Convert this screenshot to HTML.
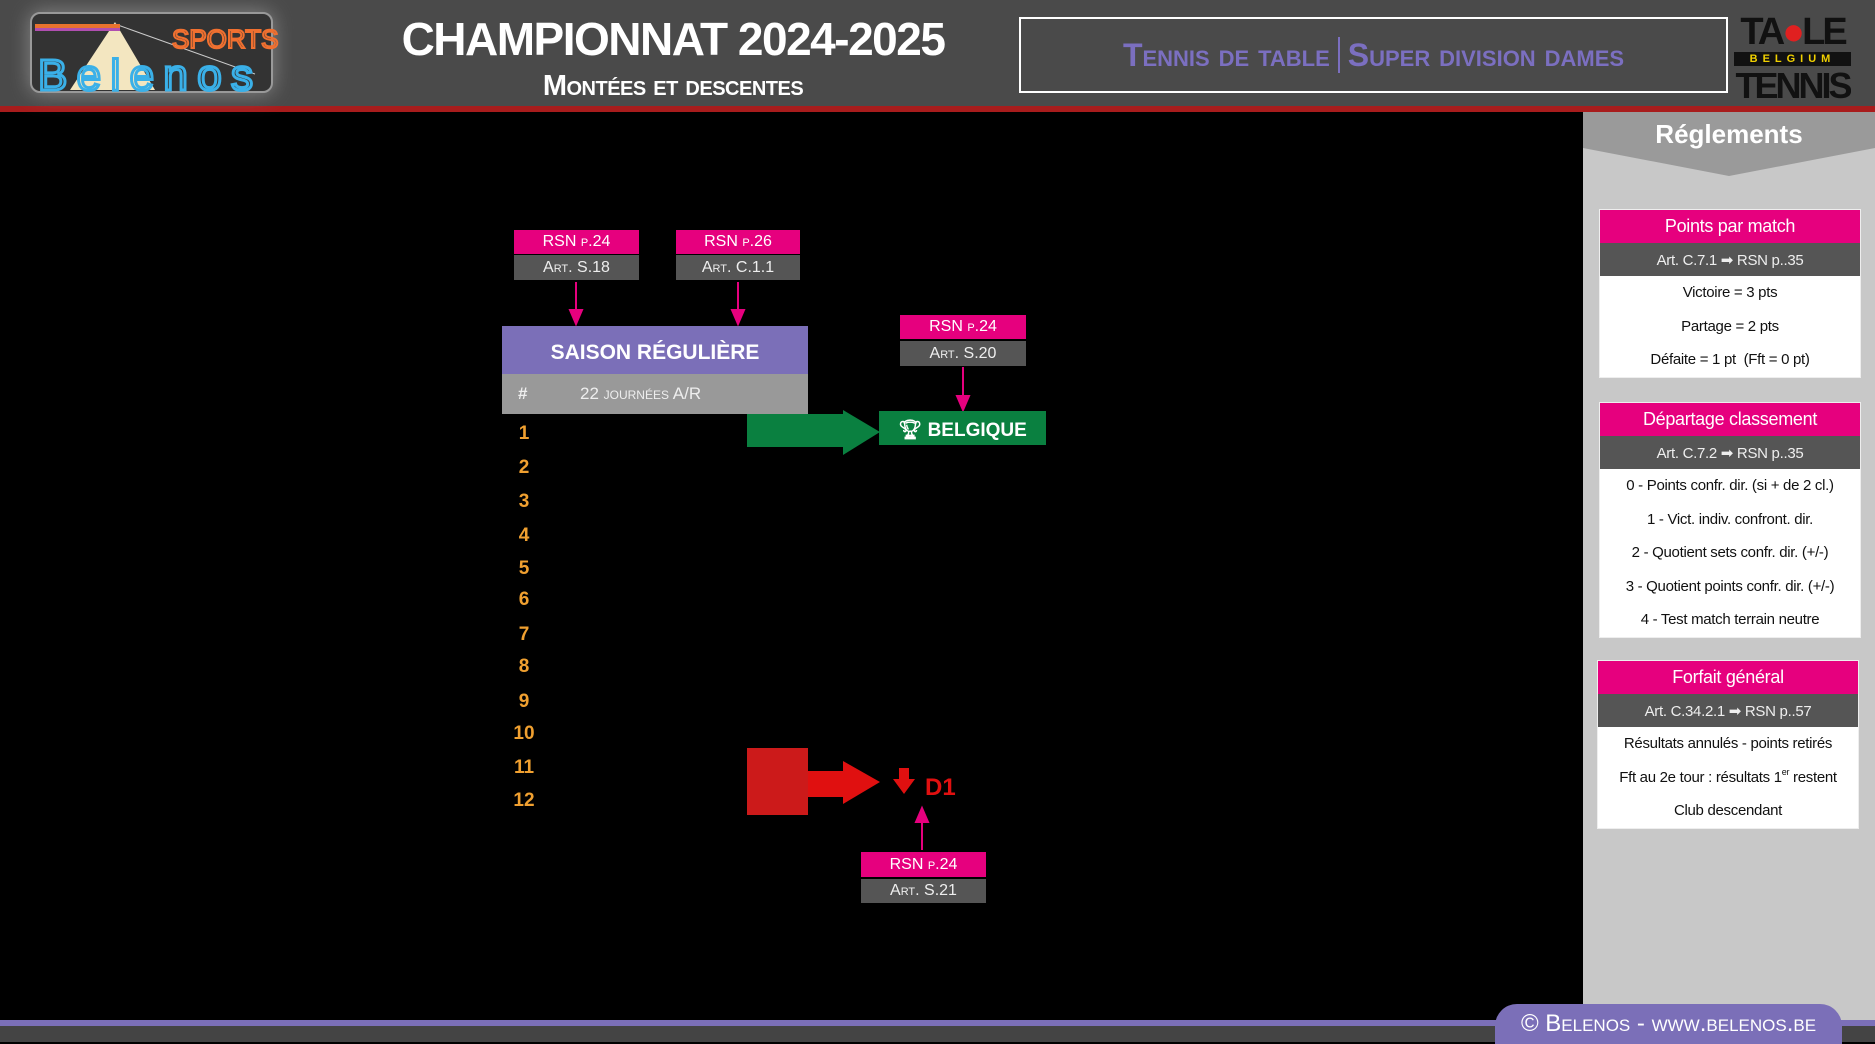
<!DOCTYPE html>
<html><head><meta charset="utf-8"><style>
*{margin:0;padding:0;box-sizing:border-box}
body{width:1875px;height:1042px;background:#000;position:relative;overflow:hidden;font-family:"Liberation Sans",sans-serif}
.a{position:absolute}
.c{display:flex;align-items:center;justify-content:center;white-space:nowrap}
.pk{background:#e6007e;color:#fff}
.gr{background:#555;color:#eee}
.sc{font-variant:small-caps}
.num{position:absolute;left:510px;width:28px;text-align:center;color:#f0a030;font-weight:bold;font-size:19px}
.box{position:absolute;background:#fff;left:1599px;width:262px;border:1px solid #eee}
.box div{height:33.5px;display:flex;align-items:center;justify-content:center;font-size:15px;color:#111;white-space:nowrap;letter-spacing:-0.3px}
.box .h{height:33px;background:#e6007e;color:#fff;font-size:18px}
.box .g{height:33px;background:#555;color:#eee;font-size:15px}
</style></head><body>
<div class="a" style="left:0;top:0;width:1875px;height:106px;background:#4a4a4a"></div>
<div class="a" style="left:0;top:106px;width:1875px;height:6px;background:#a81c1c"></div>
<div class="a" style="left:30px;top:12px;width:243px;height:81px;border:2px solid #999;border-radius:10px;background:#333;box-shadow:0 0 20px #888"></div>
<svg class="a" style="left:30px;top:12px" width="300" height="85">
<polygon points="85,10 40,78 125,78" fill="#f3e6c0"/>
<line x1="85" y1="12" x2="225" y2="62" stroke="#ccc" stroke-width="1"/>
<rect x="5" y="12" width="85" height="4" fill="#e8732e"/><rect x="5" y="16" width="85" height="3" fill="#b04fb0"/>
<text x="142" y="36" font-size="26" fill="none" stroke="#f07030" stroke-width="2" font-family="Liberation Sans">SPORTS</text>
<text x="8" y="78" font-size="44" fill="none" stroke="#3ab0e8" stroke-width="3" font-family="Liberation Sans" textLength="215">Belenos</text>
</svg>
<div class="a c" style="left:350px;top:14px;width:646px;height:50px;color:#fff;font-size:46px;font-weight:bold;letter-spacing:-1.5px">CHAMPIONNAT 2024-2025</div>
<div class="a c sc" style="left:350px;top:66px;width:646px;height:40px;color:#fff;font-size:29px;font-weight:bold;letter-spacing:-0.5px">Montées et descentes</div>
<div class="a c sc" style="left:1019px;top:17px;width:709px;height:76px;border:2px solid #fff;color:#7b6fc0;font-size:32px;font-weight:bold">Tennis de table <span style="display:inline-block;width:2px;height:36px;background:#7b6fc0;margin:0 8px"></span> Super division dames</div>
<div class="a" style="left:1734px;top:12px;width:117px;height:100px;text-align:center;font-weight:bold;color:#111;overflow:hidden">
<div style="font-size:38px;line-height:40px;letter-spacing:-3px">TA<span style="color:#e02020">●</span>LE</div>
<div style="font-size:11px;color:#f0d000;letter-spacing:5px;background:#111;line-height:14px">BELGIUM</div>
<div style="font-size:36px;line-height:40px;letter-spacing:-3px">TENNIS</div></div>
<div class="a" style="left:1583px;top:112px;width:292px;height:910px;background:#c8c8c8"></div>
<svg class="a" style="left:1583px;top:112px" width="292" height="66"><polygon points="0,0 292,0 292,36 146,64 0,36" fill="#9a9a9a"/></svg>
<div class="a c" style="left:1583px;top:114px;width:292px;height:40px;color:#fff;font-size:26px;font-weight:bold">Réglements</div>
<div class="box" style="top:209px"><div class="h">Points par match</div><div class="g">Art. C.7.1 ➡ RSN p..35</div><div>Victoire = 3 pts</div><div>Partage = 2 pts</div><div>Défaite = 1 pt &nbsp;(Fft = 0 pt)</div></div>
<div class="box" style="top:402px"><div class="h">Départage classement</div><div class="g">Art. C.7.2 ➡ RSN p..35</div><div>0 - Points confr. dir. (si + de 2 cl.)</div><div>1 - Vict. indiv. confront. dir.</div><div>2 - Quotient sets confr. dir. (+/-)</div><div>3 - Quotient points confr. dir. (+/-)</div><div>4 - Test match terrain neutre</div></div>
<div class="box" style="top:660px;left:1597px"><div class="h">Forfait général</div><div class="g">Art. C.34.2.1 ➡ RSN p..57</div><div>Résultats annulés - points retirés</div><div>Fft au 2e tour : résultats 1<span style="font-size:9px;position:relative;top:-5px">er</span>&nbsp;restent</div><div>Club descendant</div></div>
<div class="a" style="left:0;top:1020px;width:1875px;height:6px;background:#7b6fb8"></div>
<div class="a" style="left:0;top:1026px;width:1875px;height:16px;background:#444"></div>
<div class="a c sc" style="left:1495px;top:1004px;width:347px;height:40px;background:#7b6fb8;border-radius:22px 22px 0 0;color:#fff;font-size:24px">© Belenos - www.belenos.be</div>
<div class="a c pk" style="left:514px;top:230px;width:125px;height:24px;font-size:16px">RSN <span class="sc">&nbsp;p.24</span></div>
<div class="a c gr sc" style="left:514px;top:255px;width:125px;height:25px;font-size:16px">Art. S.18</div>
<div class="a c pk" style="left:676px;top:230px;width:124px;height:24px;font-size:16px">RSN <span class="sc">&nbsp;p.26</span></div>
<div class="a c gr sc" style="left:676px;top:255px;width:124px;height:25px;font-size:16px">Art. C.1.1</div>
<div class="a c pk" style="left:900px;top:315px;width:126px;height:24px;font-size:16px">RSN <span class="sc">&nbsp;p.24</span></div>
<div class="a c gr sc" style="left:900px;top:341px;width:126px;height:25px;font-size:16px">Art. S.20</div>
<div class="a c pk" style="left:861px;top:852px;width:125px;height:25px;font-size:16px">RSN <span class="sc">&nbsp;p.24</span></div>
<div class="a c gr sc" style="left:861px;top:879px;width:125px;height:24px;font-size:16px">Art. S.21</div>
<div class="a c" style="left:502px;top:326px;width:306px;height:48px;background:#7b6fb8;color:#fff;font-size:21px;font-weight:bold;padding-top:6px">SAISON RÉGULIÈRE</div>
<div class="a" style="left:502px;top:374px;width:306px;height:40px;background:#999;color:#eee;font-size:17px"><span style="position:absolute;left:16px;top:10px;font-weight:bold">#</span><span class="sc" style="position:absolute;left:78px;top:10px">22 journées A/R</span></div>
<svg class="a" style="left:0;top:0" width="1100" height="1000">
<g stroke="#e6007e" stroke-width="2" fill="#e6007e">
<line x1="576" y1="282" x2="576" y2="312"/><polygon points="570,310 582,310 576,324"/>
<line x1="738" y1="282" x2="738" y2="312"/><polygon points="732,310 744,310 738,324"/>
<line x1="963" y1="367" x2="963" y2="398"/><polygon points="957,396 969,396 963,410"/>
<line x1="922" y1="850" x2="922" y2="820"/><polygon points="916,822 928,822 922,808"/>
</g>
<rect x="747" y="414" width="96" height="33" fill="#0a8040"/>
<polygon points="843,410 880,432 843,455" fill="#0a8040"/>
<rect x="747" y="748" width="61" height="67" fill="#cc1a1a"/>
<rect x="808" y="771" width="36" height="26" fill="#e01010"/>
<polygon points="843,761 880,782 843,804" fill="#e01010"/>
<polygon points="899,768 909,768 909,779 915,779 904,794 893,779 899,779" fill="#e01010"/>
<text x="925" y="795" font-size="24" font-weight="bold" fill="#e01010" font-family="Liberation Sans">D1</text>
</svg>
<div class="a c" style="left:879px;top:411px;width:167px;height:34px;background:#0a8040;color:#fff;font-size:19px;font-weight:bold;padding-top:3px">🏆︎ BELGIQUE</div>
<div class="num" style="top:423px">1</div><div class="num" style="top:457px">2</div><div class="num" style="top:491px">3</div>
<div class="num" style="top:525px">4</div><div class="num" style="top:558px">5</div><div class="num" style="top:589px">6</div>
<div class="num" style="top:624px">7</div><div class="num" style="top:656px">8</div><div class="num" style="top:691px">9</div>
<div class="num" style="top:723px">10</div><div class="num" style="top:757px">11</div><div class="num" style="top:790px">12</div>
</body></html>
